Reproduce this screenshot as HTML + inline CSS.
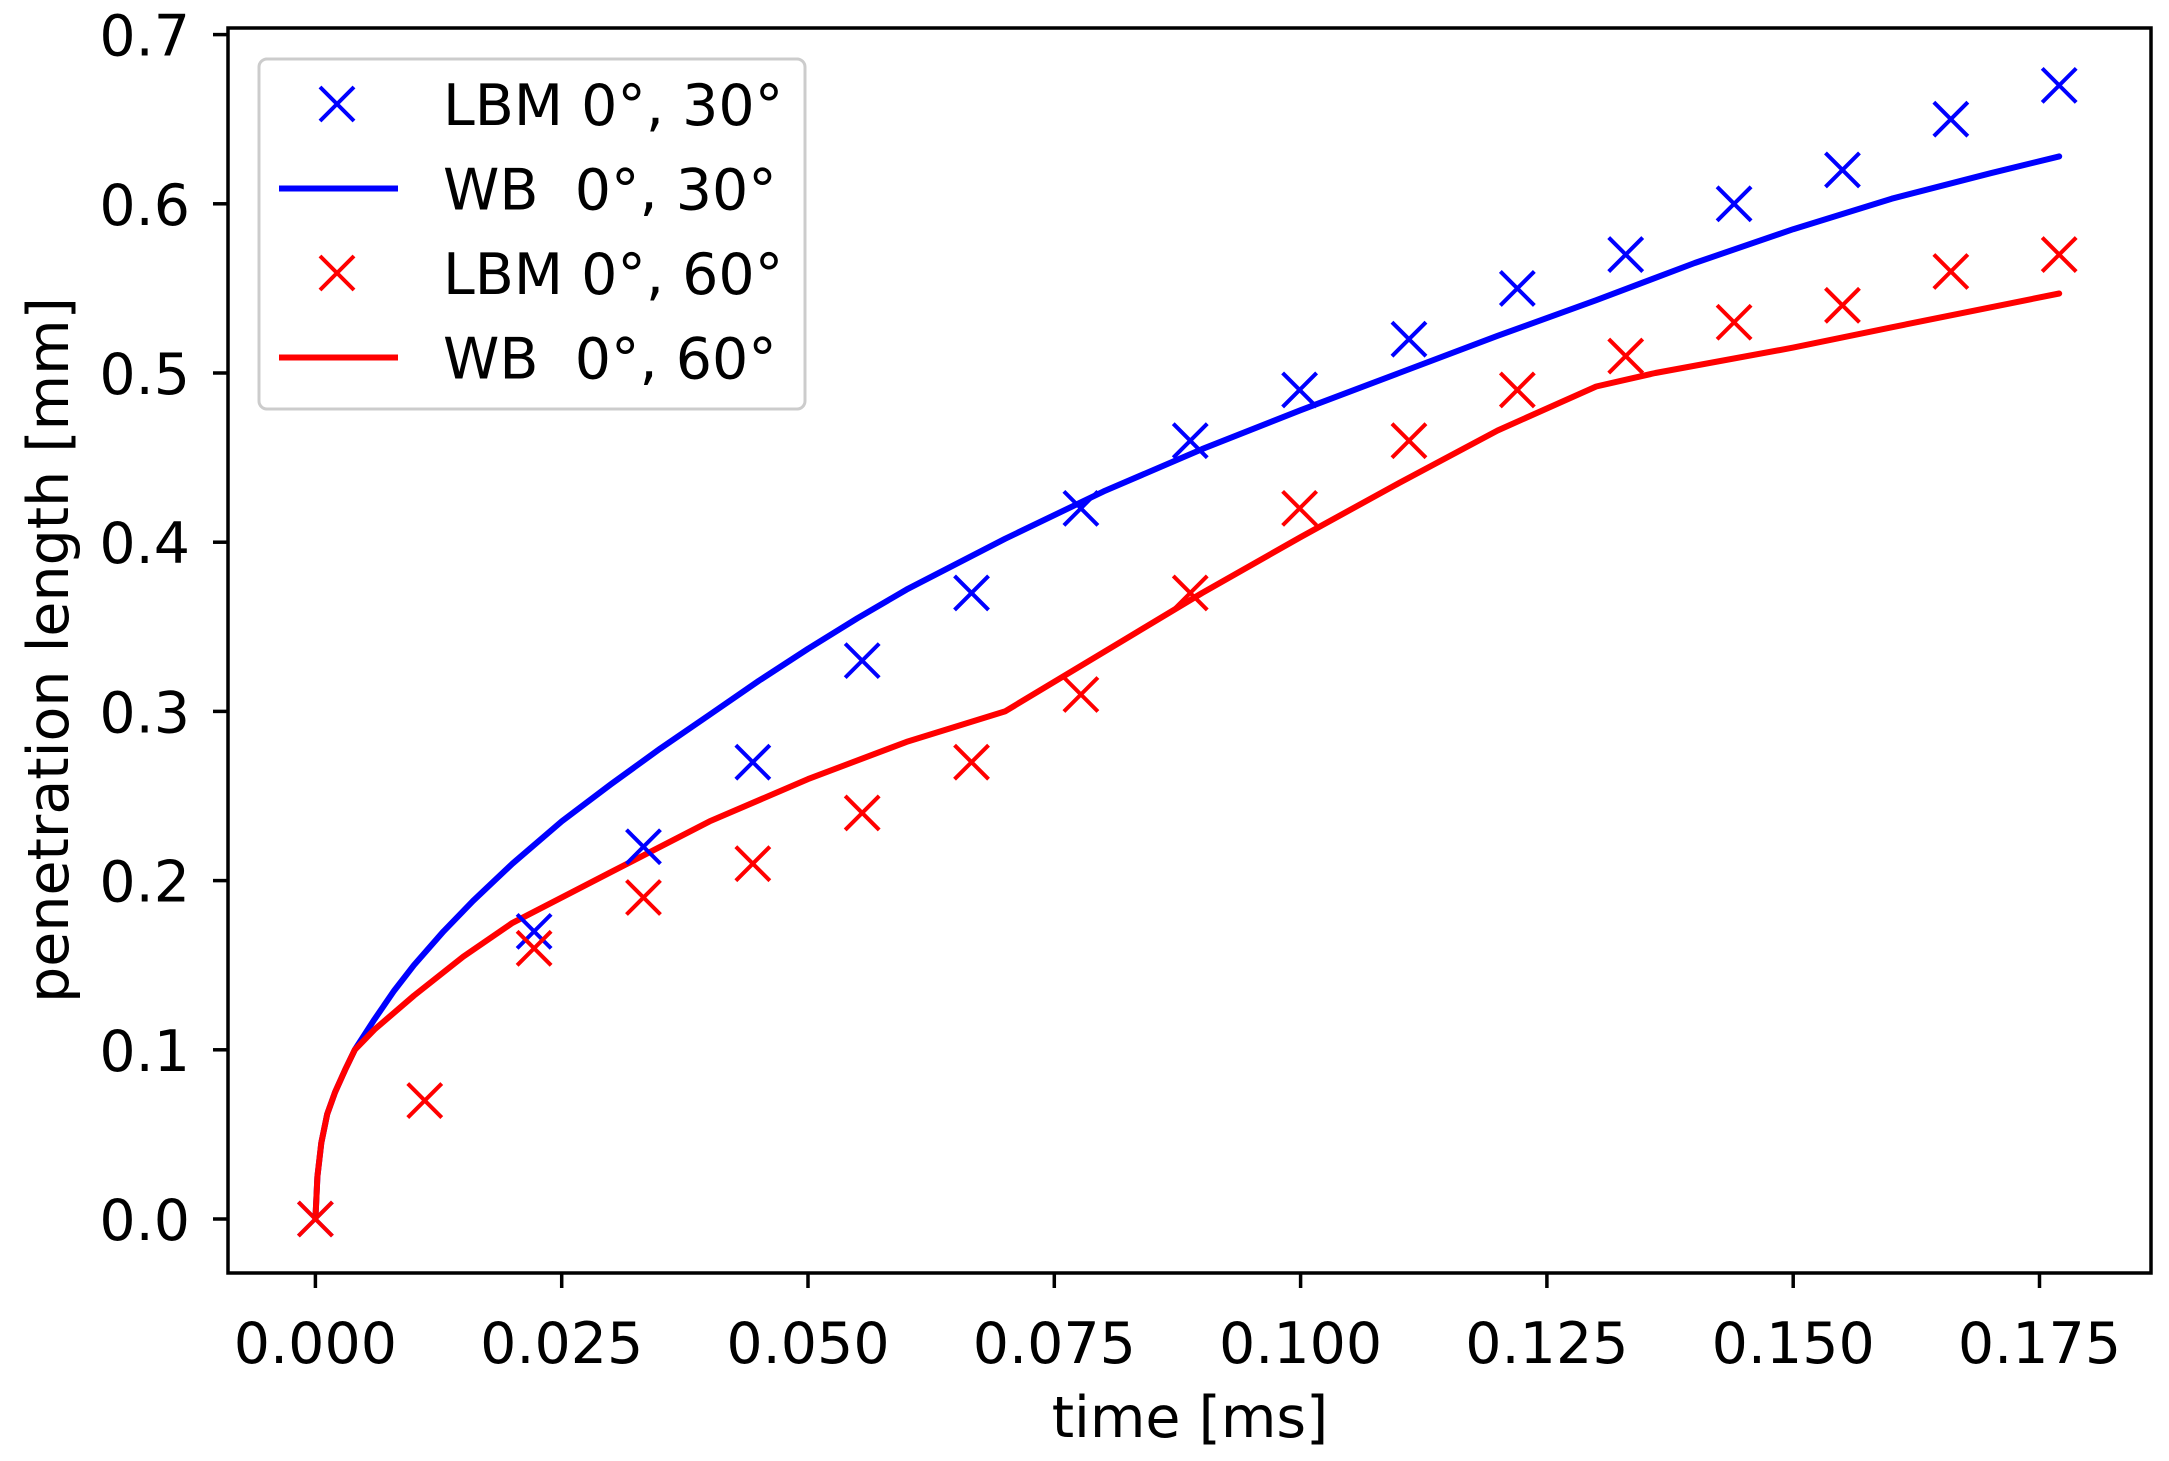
<!DOCTYPE html>
<html><head><meta charset="utf-8"><style>html,body{margin:0;padding:0;background:#fff}svg{display:block}text{font-family:"DejaVu Sans","Liberation Sans",sans-serif;fill:#000}</style></head>
<body>
<svg id="chart" width="2169" height="1461" viewBox="0 0 2169 1461"></svg>
<script>
const xTicks = [0, 0.025, 0.05, 0.075, 0.1, 0.125, 0.15, 0.175];
const xTickLabels = ["0.000","0.025","0.050","0.075","0.100","0.125","0.150","0.175"];
const yTicks = [0, 0.1, 0.2, 0.3, 0.4, 0.5, 0.6, 0.7];
const yTickLabels = ["0.0","0.1","0.2","0.3","0.4","0.5","0.6","0.7"];
const lbmTimes = [0, 0.0111, 0.0222, 0.0333, 0.0444, 0.0555, 0.0666, 0.0777, 0.0888, 0.0999, 0.111, 0.122, 0.133, 0.144, 0.155, 0.166, 0.177];
const lbm30 = [0, null, 0.17, 0.22, 0.27, 0.33, 0.37, 0.42, 0.46, 0.49, 0.52, 0.55, 0.57, 0.60, 0.62, 0.65, 0.67];
const lbm60 = [0, 0.07, 0.16, 0.19, 0.21, 0.24, 0.27, 0.31, 0.37, 0.42, 0.46, 0.49, 0.51, 0.53, 0.54, 0.56, 0.57];
const wb30T = [0, 0.0002, 0.0006, 0.0012, 0.002, 0.003, 0.004, 0.006, 0.008, 0.01, 0.013, 0.016, 0.02, 0.025, 0.03, 0.035, 0.04, 0.045, 0.05, 0.055, 0.06, 0.07, 0.08, 0.09, 0.1, 0.11, 0.12, 0.13, 0.14, 0.15, 0.16, 0.17, 0.177];
const wb30 = [0, 0.025, 0.045, 0.062, 0.075, 0.088, 0.1, 0.118, 0.135, 0.15, 0.17, 0.188, 0.21, 0.235, 0.257, 0.278, 0.298, 0.318, 0.337, 0.355, 0.372, 0.402, 0.43, 0.455, 0.478, 0.5, 0.522, 0.543, 0.565, 0.585, 0.603, 0.618, 0.628];
const wb60T = [0, 0.0002, 0.0006, 0.0012, 0.002, 0.003, 0.004, 0.006, 0.008, 0.01, 0.015, 0.02, 0.03, 0.04, 0.05, 0.06, 0.07, 0.08, 0.09, 0.1, 0.11, 0.12, 0.13, 0.136, 0.15, 0.16, 0.177];
const wb60 = [0, 0.025, 0.045, 0.062, 0.075, 0.088, 0.1, 0.112, 0.122, 0.132, 0.155, 0.175, 0.205, 0.235, 0.26, 0.282, 0.30, 0.335, 0.37, 0.403, 0.435, 0.466, 0.492, 0.50, 0.515, 0.527, 0.547];

const L=228,R=2151,T=28,B=1273;
const X0=315.4, XS=246.3/0.025, Y0=1219, YS=169.2/0.1;
const sx=v=>X0+v*XS, sy=v=>Y0-v*YS;
const svg=document.getElementById('chart');
const NS='http://www.w3.org/2000/svg';
function mk(tag,attrs,parent){const e=document.createElementNS(NS,tag);for(const k in attrs)e.setAttribute(k,attrs[k]);(parent||svg).appendChild(e);return e;}

function line(ts,vs,color,name){
  const d=ts.map((t,i)=>(i?'L':'M')+sx(t).toFixed(1)+','+sy(vs[i]).toFixed(1)).join('');
  const p=mk('path',{d:d,fill:'none',stroke:color,'stroke-width':6,'stroke-linejoin':'round','stroke-linecap':'round'});
  
  
}
line(wb30T,wb30,'#0000ff','wb-30-line');
line(wb60T,wb60,'#ff0000','wb-60-line');
function cross(cx,cy,color,name){
  const s=17;
  const p=mk('path',{d:`M${cx-s},${cy-s}L${cx+s},${cy+s}M${cx-s},${cy+s}L${cx+s},${cy-s}`,stroke:color,'stroke-width':4});
  
  
}
lbmTimes.forEach((t,i)=>{ if(lbm30[i]!==null) cross(sx(t),sy(lbm30[i]),'#0000ff','lbm-30-marker'); });
lbmTimes.forEach((t,i)=>{ cross(sx(t),sy(lbm60[i]),'#ff0000','lbm-60-marker'); });

const fr=mk('rect',{x:L,y:T,width:R-L,height:B-T,fill:'none',stroke:'#000','stroke-width':3.5});


xTicks.forEach((v,i)=>{
  const x=sx(v);
  const tk=mk('line',{x1:x,x2:x,y1:B,y2:B+15,stroke:'#000','stroke-width':3.5});
  
  
  const tx=mk('text',{x:x,y:B+90,'text-anchor':'middle','font-size':57});
  tx.textContent=xTickLabels[i];
  
  
});
yTicks.forEach((v,i)=>{
  const y=sy(v);
  const tk=mk('line',{x1:L-15,x2:L,y1:y,y2:y,stroke:'#000','stroke-width':3.5});
  
  
  const tx=mk('text',{x:L-38,y:y+21,'text-anchor':'end','font-size':57});
  tx.textContent=yTickLabels[i];
  
  
});
const xl=mk('text',{x:1190,y:1437,'text-anchor':'middle','font-size':57});
xl.textContent='time [ms]';


const yl=mk('text',{x:0,y:0,'text-anchor':'middle','font-size':57,transform:'translate(68,650) rotate(-90)'});
yl.textContent='penetration length [mm]';



const lg=mk('g',{});


mk('rect',{x:259,y:59,width:546,height:350,rx:8,fill:'#fff','fill-opacity':0.85,stroke:'#cccccc','stroke-width':3},lg);
const entries=[['LBM 0°, 30°','#0000ff','x'],['WB  0°, 30°','#0000ff','l'],['LBM 0°, 60°','#ff0000','x'],['WB  0°, 60°','#ff0000','l']];
entries.forEach((e,i)=>{
  const y=104+i*84.5;
  const g=mk('g',{},lg);
  
  
  if(e[2]==='x'){const s=17;mk('path',{d:`M${337-s},${y-s}L${337+s},${y+s}M${337-s},${y+s}L${337+s},${y-s}`,stroke:e[1],'stroke-width':4},g);}
  else mk('line',{x1:279,x2:398,y1:y,y2:y,stroke:e[1],'stroke-width':6},g);
  const t=mk('text',{x:443,y:y+21,'font-size':57},g);
  t.setAttribute('style','white-space:pre');
  t.textContent=e[0];
});
</script>
</body></html>
